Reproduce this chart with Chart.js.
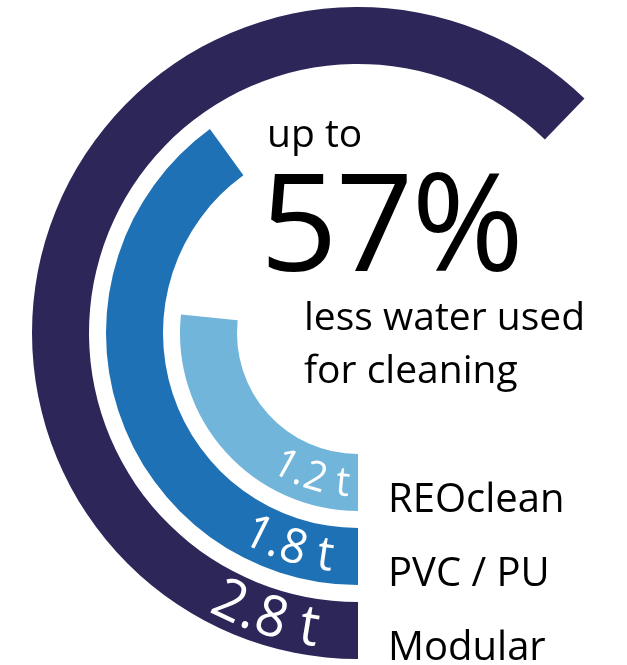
<!DOCTYPE html>
<html>
<head>
<meta charset="utf-8">
<script src="https://cdn.jsdelivr.net/npm/chart.js@4/dist/chart.umd.min.js"></script>
<style>
  html, body { margin: 0; padding: 0; background: #fff; overflow: hidden; }
  #wrap { position: relative; width: 627px; height: 665px; }
  canvas { position: absolute; left: 0; top: 0; }
  .t { position: absolute; font-family: "Open Sans", sans-serif; color: #000; white-space: nowrap; line-height: 1; }
</style>
</head>
<body>
<div id="wrap">
  <canvas id="c" width="627" height="665"></canvas>
  <div class="t" style="left:267px; top:112px; font-size:39px;">up to</div>
  <div class="t" style="left:260px; top:151px; font-size:136px; letter-spacing:-2px;">57%</div>
  <div class="t" style="left:304px; top:295px; font-size:39px;">less water used</div>
  <div class="t" style="left:304px; top:348px; font-size:39px;">for cleaning</div>
</div>
<script>
// ---- data ----
const categories = ['Modular', 'PVC / PU', 'REOclean'];
const values = [2.8, 1.8, 1.2];          // tonnes of water used for cleaning
const unit = 't';
const fullScale = 4.5;                    // value corresponding to a full circle

// ---- styles ----
const colors = ['#2D2659', '#1F71B5', '#72B5DA'];
const valueFontSizes = [57, 48, 41];
const ringGap = 17;
const labelAngle = 18 * Math.PI / 180;
const condense = 0.95;

function drawCurved(ctx, text, cx, cy, r, aCenter, fs) {
  ctx.save();
  ctx.font = fs + 'px "Open Sans"';
  ctx.fillStyle = '#fff';
  ctx.textAlign = 'center';
  ctx.textBaseline = 'middle';
  const total = ctx.measureText(text).width * condense;
  const a0 = aCenter + total / (2 * r);
  let off = 0;
  for (const ch of text) {
    const w = ctx.measureText(ch).width * condense;
    const ac = a0 - (off + w / 2) / r;
    ctx.save();
    ctx.translate(cx + r * Math.cos(ac), cy + r * Math.sin(ac));
    ctx.rotate(ac - Math.PI / 2);
    ctx.scale(condense, 1);
    ctx.fillText(ch, 0, 0);
    ctx.restore();
    off += w;
  }
  ctx.restore();
}

const gapPlugin = {
  id: 'ringGap',
  afterDatasetsUpdate(chart) {
    chart.data.datasets.forEach((d, i) => {
      chart.getDatasetMeta(i).data.forEach(arc => { arc.outerRadius = arc.outerRadius - ringGap; });
    });
  }
};

const labelPlugin = {
  id: 'ringLabels',
  afterDatasetsDraw(chart) {
    const ctx = chart.ctx;
    values.forEach((v, i) => {
      const arc = chart.getDatasetMeta(i).data[0];
      const { x, y, startAngle, innerRadius, outerRadius } = arc;
      const mid = (innerRadius + outerRadius) / 2;
      drawCurved(ctx, v.toFixed(1) + ' ' + unit, x, y, mid + 2, startAngle + labelAngle, valueFontSizes[i]);
      ctx.save();
      ctx.font = '40px "Open Sans"';
      ctx.fillStyle = '#000';
      ctx.textAlign = 'left';
      ctx.textBaseline = 'alphabetic';
      ctx.fillText(categories[i], x + 30, y + mid + 29);
      ctx.restore();
    });
  }
};

const datasets = values.map((v, i) => ({
  label: categories[i],
  data: [v, fullScale - v],
  backgroundColor: [colors[i], 'rgba(0,0,0,0)'],
  borderWidth: 0,
  hoverOffset: 0,
  clip: false
}));

document.fonts.load('38px "Open Sans"').then(() => {
  new Chart(document.getElementById('c'), {
    type: 'doughnut',
    data: { labels: ['value', 'rest'], datasets },
    options: {
      responsive: false,
      animation: false,
      devicePixelRatio: 1,
      rotation: 180,
      circumference: 360,
      radius: 343,
      cutout: '35.28%',
      events: [],
      layout: { padding: { left: 89, right: 0, top: 1, bottom: 0 } },
      plugins: { legend: { display: false }, tooltip: { enabled: false } }
    },
    plugins: [gapPlugin, labelPlugin]
  });
});
</script>
</body>
</html>
